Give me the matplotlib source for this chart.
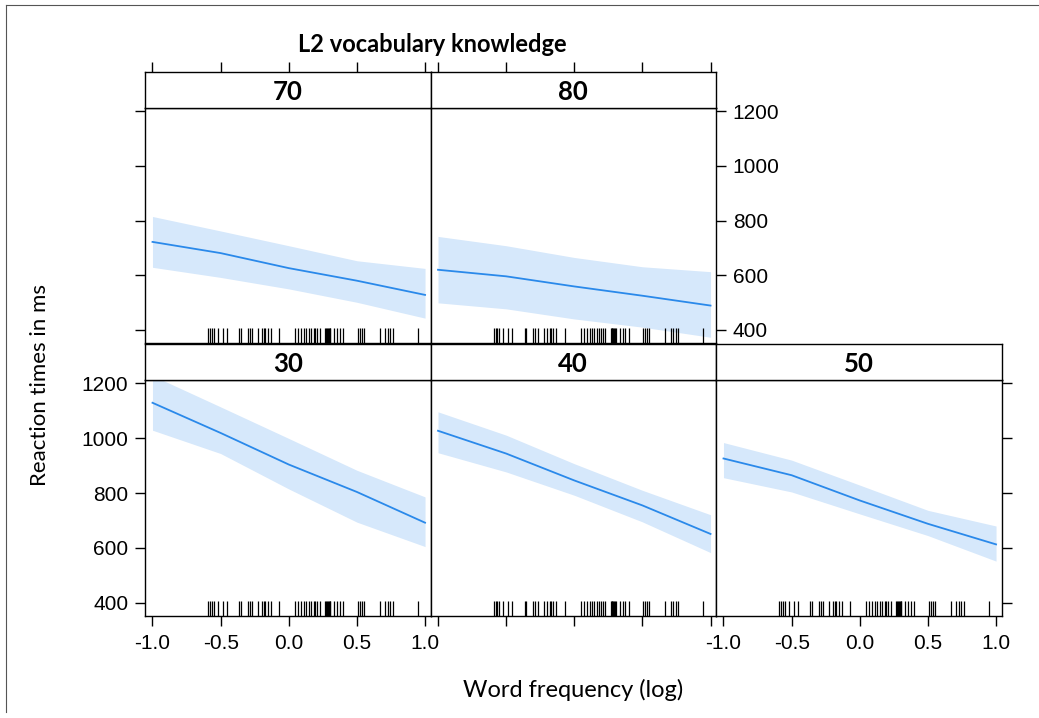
import numpy as np
import matplotlib
matplotlib.use("Agg")
import matplotlib.pyplot as plt
from matplotlib.lines import Line2D

freq = [-1.0, -0.5, 0.0, 0.5, 1.0]

# L2 vocabulary panels: fit, upper and lower band (ms)
panels = ["30", "40", "50", "70", "80"]
fit_30 = [1129, 1019, 904, 804, 692]
hi_30 = [1228, 1114, 999, 883, 786]
lo_30 = [1029, 944, 815, 694, 605]
fit_40 = [1027, 944, 846, 755, 651]
hi_40 = [1096, 1011, 907, 810, 721]
lo_40 = [947, 877, 792, 695, 583]
fit_50 = [926, 865, 773, 688, 613]
hi_50 = [984, 920, 829, 737, 680]
lo_50 = [856, 804, 724, 645, 552]
fit_70 = [722, 681, 626, 580, 528]
hi_70 = [815, 762, 708, 653, 625]
lo_70 = [629, 592, 550, 501, 443]
fit_80 = [620, 596, 559, 525, 489]
hi_80 = [742, 708, 665, 631, 613]
lo_80 = [499, 477, 440, 410, 373]

# observed word frequencies (rug)
rug = [-0.59, -0.578, -0.566, -0.549, -0.522, -0.485, -0.456, -0.363, -0.351,
       -0.302, -0.285, -0.268, -0.224, -0.2, -0.18, -0.171, -0.156, -0.134,
       -0.071, 0.049, 0.071, 0.093, 0.112, 0.129, 0.146, 0.166, 0.183, 0.195,
       0.21, 0.227, 0.268, 0.275, 0.28, 0.287, 0.293, 0.3, 0.305, 0.332,
       0.354, 0.373, 0.398, 0.507, 0.522, 0.534, 0.551, 0.666, 0.707, 0.727,
       0.744, 0.763, 0.946]

xticks = [-1.0, -0.5, 0.0, 0.5, 1.0]
xticklabels = ["-1.0", "-0.5", "0.0", "0.5", "1.0"]
yticks = [400, 600, 800, 1000, 1200]

data = {
    "30": (fit_30, hi_30, lo_30),
    "40": (fit_40, hi_40, lo_40),
    "50": (fit_50, hi_50, lo_50),
    "70": (fit_70, hi_70, lo_70),
    "80": (fit_80, hi_80, lo_80),
}

W, H = 1039, 718
fig = plt.figure(figsize=(W / 100, H / 100), dpi=100)
fig.patch.set_facecolor("white")

# outer frame of the figure
fig.add_artist(Line2D([6 / W, 6 / W], [1 - 712 / H, 1 - 5 / H], color="#555555", lw=0.8))
fig.add_artist(Line2D([6 / W, 1.0], [1 - 5 / H, 1 - 5 / H], color="#555555", lw=0.8))

tick_font = dict(family="Liberation Sans", size=15)
col_left = [145, 430.5, 716]
col_w = 285.5
xlim = (-1.055, 1.04)
ylim = (352, 1212)

# (panel, column, top pixel of strip, panel top, panel bottom)
layout = [("30", 0, 344, 380, 616), ("40", 1, 344, 380, 616), ("50", 2, 344, 380, 616),
          ("70", 0, 72, 108, 343), ("80", 1, 72, 108, 343)]

for name, col, s_top, p_top, p_bot in layout:
    x0 = col_left[col] / W
    w = col_w / W
    ax = fig.add_axes([x0, 1 - p_bot / H, w, (p_bot - p_top) / H])
    st = fig.add_axes([x0, 1 - p_top / H, w, (p_top - s_top) / H])

    fit, hi, lo = data[name]
    ax.fill_between(freq, lo, hi, color="#d6e8fb", lw=0)
    ax.plot(freq, fit, color="#2a89ea", lw=1.3)
    ax.vlines(rug, 0, 0.065, transform=ax.get_xaxis_transform(), color="black", lw=0.9)
    ax.set_xlim(xlim)
    ax.set_ylim(ylim)

    for a in (ax, st):
        for sp in a.spines.values():
            sp.set_linewidth(1.0)
    st.set_xlim(xlim)
    st.set_yticks([])
    st.text(0.5, 0.45, name, transform=st.transAxes, ha="center", va="center",
            family="Lato", fontweight="bold", fontsize=18.5)

    ax.tick_params(direction="out", length=7, width=1.0, labelsize=15)
    st.tick_params(direction="out", length=7, width=1.0)
    ax.set_xticks(xticks)
    ax.set_yticks(yticks)

    # x axis: bottom row carries ticks, top row ticks sit above the strips
    if name in ("30", "40", "50"):
        ax.tick_params(axis="x", bottom=True, top=False)
        if name == "40":
            ax.set_xticklabels([])
        else:
            ax.set_xticklabels(xticklabels, **tick_font)
        st.set_xticks([])
    else:
        ax.set_xticks([])
        st.set_xticks(xticks)
        st.tick_params(axis="x", bottom=False, top=True, labelbottom=False, labeltop=False)

    # y axis: left column ticks, right side ticks, labels alternate
    if name == "30":
        ax.tick_params(axis="y", left=True, right=False)
        ax.set_yticklabels([str(v) for v in yticks], **tick_font)
    elif name == "70":
        ax.tick_params(axis="y", left=True, right=False, labelleft=False)
    elif name == "80":
        ax.tick_params(axis="y", left=False, right=True, labelleft=False, labelright=True)
        ax.set_yticklabels([str(v) for v in yticks], **tick_font)
    elif name == "50":
        ax.tick_params(axis="y", left=False, right=True, labelleft=False)
    else:
        ax.tick_params(axis="y", left=False, right=False, labelleft=False)
    ax.tick_params(axis="x", pad=6)
    ax.tick_params(axis="y", pad=5)

fig.text(432 / W, 1 - 45 / H, "L2 vocabulary knowledge", ha="center", va="center",
         family="Lato", fontweight="bold", fontsize=17)
fig.text(40 / W, 1 - 385 / H, "Reaction times in ms", ha="center", va="center",
         rotation=90, family="Lato", fontsize=16)
fig.text(573 / W, 1 - 690 / H, "Word frequency (log)", ha="center", va="center",
         family="Lato", fontsize=17)

fig.savefig("out.png", dpi=100)
